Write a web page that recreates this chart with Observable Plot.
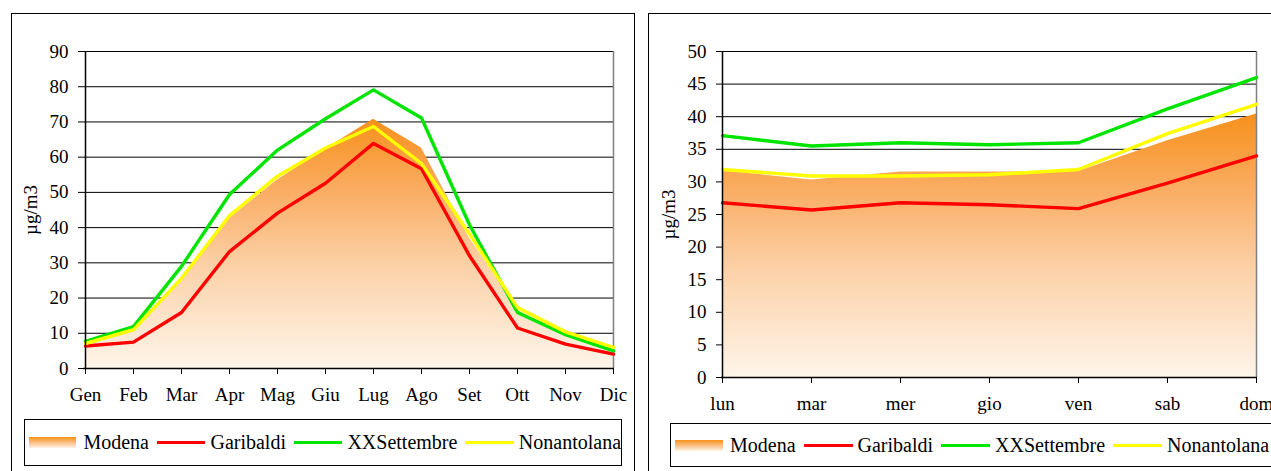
<!DOCTYPE html>
<html>
<head>
<meta charset="utf-8">
<script src="https://cdn.jsdelivr.net/npm/d3@7"></script>
<script src="https://cdn.jsdelivr.net/npm/@observablehq/plot@0.6"></script>
<style>
  html, body { margin:0; padding:0; background:#fff; }
  body { width:1271px; height:471px; overflow:hidden; position:relative; font-family:'Liberation Serif', 'Times New Roman', serif; }
  .panel { position:absolute; border:1px solid #000; box-sizing:border-box; }
  .chart { position:absolute; }
  .chart svg { max-width:none !important; display:block; }
  .legend { position:absolute; border:1px solid #000; box-sizing:border-box; display:flex; align-items:center; font-family:'Liberation Serif'; font-size:20px; color:#000; white-space:nowrap; }
  .legend .sw { width:48px; height:11px; background:linear-gradient(#f7901a, #fcc48e 55%, #fef3e6); }
  .legend .ln { width:49px; height:3px; }
</style>
</head>
<body>
<div class="panel" style="left:11px; top:13px; width:624px; height:470px;"></div>
<div class="panel" style="left:648px; top:13px; width:660px; height:470px;"></div>
<div id="c1" class="chart" style="left:12px; top:14px; width:621px; height:400px;"></div>
<div id="c2" class="chart" style="left:649px; top:14px; width:640px; height:400px;"></div>
<div id="l1" class="legend" style="left:24px; top:419px; width:598px; height:47px;"></div>
<div id="l2" class="legend" style="left:670px; top:423px; width:640px; height:44px;"></div>
<script>
// ---- data ----
const months = ["Gen","Feb","Mar","Apr","Mag","Giu","Lug","Ago","Set","Ott","Nov","Dic"];
const modenaMonth      = [6.9, 10.5, 24.8, 42.6, 53.5, 62.3, 70.8, 62.6, 37.0, 17.0, 10.0, 5.5];
const garibaldiMonth   = [6.4, 7.5, 15.9, 33.2, 44.1, 52.6, 63.9, 56.7, 32.0, 11.5, 6.9, 4.1];
const xxSettembreMonth = [7.7, 11.9, 29.0, 49.4, 62.0, 70.9, 79.1, 71.1, 40.8, 15.9, 9.6, 5.0];
const nonantolanaMonth = [7.1, 11.0, 25.6, 43.4, 54.6, 62.6, 68.7, 58.2, 38.2, 17.3, 10.4, 6.0];
const monthTicks = [0,10,20,30,40,50,60,70,80,90];

const days = ["lun","mar","mer","gio","ven","sab","dom"];
const modenaDay      = [31.7, 30.3, 31.5, 31.5, 31.6, 36.3, 40.4];
const garibaldiDay   = [26.8, 25.7, 26.8, 26.5, 25.9, 29.8, 34.0];
const xxSettembreDay = [37.1, 35.5, 36.0, 35.7, 36.0, 41.2, 46.0];
const nonantolanaDay = [31.9, 30.9, 30.9, 31.1, 31.9, 37.4, 41.9];
const dayTicks = [0,5,10,15,20,25,30,35,40,45,50];

const seriesNames = ["Modena","Garibaldi","XXSettembre","Nonantolana"];
const seriesColors = ["#f7901a","#ff0000","#00e400","#ffff00"];

function chart(opts) {
  const {cats, modena, lines, ticks, width, height, ml, mr, mt, mb, gid} = opts;
  const rows = vals => cats.map((c, i) => ({c, v: vals[i]}));
  const svg = Plot.plot({
    width, height, marginLeft: ml, marginRight: mr, marginTop: mt, marginBottom: mb,
    style: "font-family:'Liberation Serif','Times New Roman',serif; font-size:19px; color:#000; background:transparent; overflow:visible; max-width:none;",
    x: {type: "point", domain: cats, padding: 0},
    y: {domain: [0, ticks[ticks.length - 1]]},
    marks: [
      Plot.ruleY(ticks.slice(1), {stroke: "#000", strokeWidth: 1}),
      Plot.areaY(rows(modena), {x: "c", y: "v", fill: `url(#${gid})`}),
      Plot.ruleX([cats[cats.length - 1]], {stroke: "#808080", strokeWidth: 1.5}),
      ...lines.map((vals, k) => Plot.lineY(rows(vals), {x: "c", y: "v", stroke: seriesColors[k + 1], strokeWidth: 3.4})),
      Plot.axisX({tickSize: 6, tickPadding: 13, label: null, fontSize: 19}),
      Plot.axisY({ticks, tickSize: 5, tickPadding: 10, fontSize: 19, label: "µg/m3", labelAnchor: "center", labelArrow: "none", labelOffset: 60}),
      Plot.ruleX([cats[0]], {stroke: "#000", strokeWidth: 1.5}),
      Plot.ruleY([0], {stroke: "#000", strokeWidth: 1.5})
    ]
  });
  const defs = d3.select(svg).insert("defs", ":first-child");
  const g = defs.append("linearGradient").attr("id", gid).attr("x1", 0).attr("y1", 0).attr("x2", 0).attr("y2", 1);
  g.append("stop").attr("offset", "0%").attr("stop-color", "#f7901a");
  g.append("stop").attr("offset", "30%").attr("stop-color", "#faae66");
  g.append("stop").attr("offset", "60%").attr("stop-color", "#fcd2a9");
  g.append("stop").attr("offset", "100%").attr("stop-color", "#fef5ea");
  return svg;
}

document.getElementById("c1").append(chart({
  cats: months, modena: modenaMonth,
  lines: [garibaldiMonth, xxSettembreMonth, nonantolanaMonth],
  ticks: monthTicks, width: 621, height: 400, ml: 71, mr: 19, mt: 37, mb: 46, gid: "gradM"
}));
document.getElementById("c2").append(chart({
  cats: days, modena: modenaDay,
  lines: [garibaldiDay, xxSettembreDay, nonantolanaDay],
  ticks: dayTicks, width: 640, height: 400, ml: 72, mr: 32, mt: 37, mb: 37, gid: "gradD"
}));

function legend(el, pad) {
  const root = d3.select(el).style("padding-left", pad + "px");
  seriesNames.forEach((name, k) => {
    if (k === 0) root.append("div").attr("class", "sw");
    else root.append("div").attr("class", "ln").style("background", seriesColors[k]).style("margin-left", "8px");
    root.append("span").text(name).style("margin-left", k === 0 ? "7px" : "5px");
  });
}
legend(document.getElementById("l1"), 4);
legend(document.getElementById("l2"), 4);
</script>
</body>
</html>
